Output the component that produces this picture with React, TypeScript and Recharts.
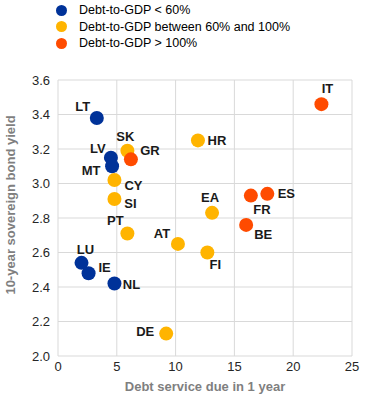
import { ScatterChart, Scatter, XAxis, YAxis, CartesianGrid } from "recharts"

const lowCountries = ["LT", "LV", "MT", "LU", "IE", "NL"]
const lowDebtService = [3.3, 4.5, 4.6, 2.0, 2.6, 4.8]
const lowYield = [3.38, 3.15, 3.1, 2.54, 2.48, 2.42]

const midCountries = ["SK", "CY", "SI", "PT", "AT", "DE", "FI", "HR", "EA"]
const midDebtService = [5.9, 4.8, 4.8, 5.9, 10.2, 9.2, 12.7, 11.9, 13.1]
const midYield = [3.19, 3.02, 2.91, 2.71, 2.65, 2.13, 2.6, 3.25, 2.83]

const highCountries = ["GR", "FR", "ES", "BE", "IT"]
const highDebtService = [6.2, 16.4, 17.8, 16.0, 22.4]
const highYield = [3.14, 2.93, 2.94, 2.76, 3.46]

const xTicks = [0, 5, 10, 15, 20, 25]
const yTicks = [2.0, 2.2, 2.4, 2.6, 2.8, 3.0, 3.2, 3.4, 3.6]

const seriesNames = ["Debt-to-GDP < 60%", "Debt-to-GDP between 60% and 100%", "Debt-to-GDP > 100%"]
const colors = ["#003299", "#FFB400", "#FF4B00"]

const font = "Liberation Sans, Arial, sans-serif"

// label offsets from the marker centre (px)
const labelOffset: Record<string, [number, number]> = {
  LT: [-14, -11], LV: [-13, -9], MT: [-21, 4], LU: [4, -13], IE: [16, -6], NL: [17, 1],
  SK: [-2, -14], CY: [19, 5], SI: [16, 4], PT: [-12, -13], AT: [-16, -10], DE: [-21, -2],
  FI: [8, 12], HR: [19, 0], EA: [-2, -15],
  GR: [19, -9], FR: [11, 14], ES: [19, 0], BE: [17, 10], IT: [6, -16],
}

const build = (names: string[], xs: number[], ys: number[]) =>
  names.map((name, i) => ({ name, x: xs[i], y: ys[i] }))

const groups = [
  build(lowCountries, lowDebtService, lowYield),
  build(midCountries, midDebtService, midYield),
  build(highCountries, highDebtService, highYield),
]

const makeShape = (color: string) => (props: any) => {
  const { cx, cy, payload } = props
  const [dx, dy] = labelOffset[payload.name] || [0, 0]
  return (
    <g>
      <circle cx={cx} cy={cy} r={7} fill={color} />
      <text
        x={cx + dx}
        y={cy + dy}
        textAnchor="middle"
        dominantBaseline="central"
        fontSize={13}
        fontWeight="bold"
        fontFamily={font}
        fill="#1a1a1a"
      >
        {payload.name}
      </text>
    </g>
  )
}

const YTitle = () => (
  <text
    x={10}
    y={205}
    transform="rotate(-90, 10, 205)"
    textAnchor="middle"
    dominantBaseline="central"
    fill="#7f7f7f"
    fontSize={13}
    fontWeight="bold"
    fontFamily={font}
  >
    10-year sovereign bond yield
  </text>
)

export default function App() {
  return (
    <div style={{ position: "absolute", left: 0, top: 0, width: 373, height: 394, background: "#fff" }}>
      <div style={{ position: "absolute", left: 56, top: 2, fontFamily: font, fontSize: 12.5, zIndex: 1 }}>
        {seriesNames.map((n, i) => (
          <div key={n} style={{ display: "flex", alignItems: "center", height: 16.5 }}>
            <span
              style={{
                width: 11,
                height: 11,
                borderRadius: "50%",
                background: colors[i],
                display: "inline-block",
                marginRight: 12,
              }}
            />
            <span style={{ color: "#000" }}>{n}</span>
          </div>
        ))}
      </div>
      <ScatterChart width={373} height={394} margin={{ top: 80, right: 21, left: 0, bottom: 0 }}>
        <CartesianGrid stroke="#d9d9d9" />
        <XAxis
          type="number"
          dataKey="x"
          domain={[0, 25]}
          ticks={xTicks}
          axisLine={false}
          tickLine={false}
          tickSize={6}
          tickMargin={0}
          height={38}
          tick={{ fill: "#262626", fontSize: 13, fontFamily: font }}
          label={{
            value: "Debt service due in 1 year",
            position: "insideBottom",
            offset: 3,
            fill: "#7f7f7f",
            fontSize: 13,
            fontWeight: "bold",
            fontFamily: font,
          }}
        />
        <YAxis
          type="number"
          dataKey="y"
          domain={[2.0, 3.6]}
          ticks={yTicks}
          tickFormatter={(v: number) => v.toFixed(1)}
          axisLine={false}
          tickLine={false}
          tickSize={6}
          tickMargin={2}
          width={58}
          tick={{ fill: "#262626", fontSize: 13, fontFamily: font }}
          label={<YTitle />}
        />
        {groups.map((g, i) => (
          <Scatter
            key={seriesNames[i]}
            name={seriesNames[i]}
            data={g}
            fill={colors[i]}
            shape={makeShape(colors[i])}
            isAnimationActive={false}
          />
        ))}
      </ScatterChart>
    </div>
  )
}
